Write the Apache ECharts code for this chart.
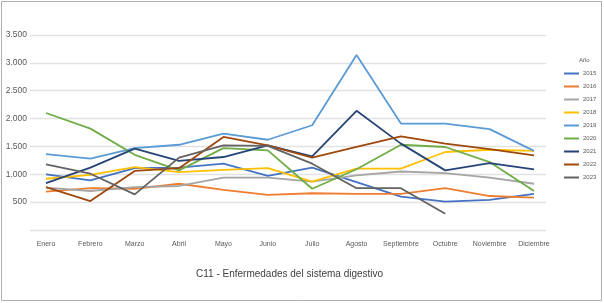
<!DOCTYPE html>
<html>
<head>
<meta charset="UTF-8">
<script src="https://cdn.jsdelivr.net/npm/echarts@6/dist/echarts.min.js"></script>
<style>
  html, body { margin: 0; padding: 0; background: #fff; }
  #main { width: 604px; height: 303px; }
</style>
</head>
<body>
<div id="main"></div>
<script>
var months = ['Enero', 'Febrero', 'Marzo', 'Abril', 'Mayo', 'Junio', 'Julio', 'Agosto', 'Septiembre', 'Octubre', 'Noviembre', 'Diciembre'];
var years = ['2015', '2016', '2017', '2018', '2019', '2020', '2021', '2022', '2023'];
var colors = ['#4472C4', '#ED7D31', '#A5A5A5', '#FFC000', '#5B9BD5', '#70AD47', '#264478', '#9E480E', '#636363'];

var v2015 = [1000, 890, 1110, 1120, 1190, 970, 1120, 860, 600, 510, 540, 650];
var v2016 = [690, 750, 740, 830, 720, 630, 660, 650, 650, 750, 610, 580];
var v2017 = [760, 700, 770, 790, 940, 940, 870, 980, 1050, 1020, 940, 830];
var v2018 = [920, 990, 1130, 1040, 1080, 1110, 870, 1100, 1100, 1400, 1440, 1420];
var v2019 = [1360, 1280, 1470, 1530, 1730, 1620, 1880, 3140, 1910, 1910, 1810, 1420];
var v2020 = [2100, 1820, 1350, 1070, 1470, 1430, 740, 1090, 1530, 1490, 1220, 700];
var v2021 = [840, 1120, 1460, 1240, 1310, 1520, 1320, 2140, 1550, 1070, 1200, 1090];
var v2022 = [770, 520, 1060, 1110, 1670, 1520, 1300, 1490, 1680, 1550, 1450, 1340];
var v2023 = [1180, 1010, 640, 1300, 1520, 1510, 1190, 750, 750, 290, null, null];
var values = [v2015, v2016, v2017, v2018, v2019, v2020, v2021, v2022, v2023];

var yTicks = [0, 500, 1000, 1500, 2000, 2500, 3000, 3500];

var chart = echarts.init(document.getElementById('main'));

function fmt(v) {
  if (v === 0) return '';
  return String(v).replace(/\B(?=(\d{3})+(?!\d))/g, '.');
}

var series = years.map(function (y, i) {
  return {
    name: y,
    type: 'line',
    xAxisIndex: 1,
    yAxisIndex: 1,
    data: values[i],
    showSymbol: false,
    symbol: 'none',
    lineStyle: { width: 1.8, color: colors[i] },
    itemStyle: { color: colors[i] }
  };
});

chart.setOption({
  animation: false,
  textStyle: { fontFamily: 'Liberation Sans, Arial, sans-serif' },
  title: {
    text: 'C11 - Enfermedades del sistema digestivo',
    left: 191,
    top: 264,
    textStyle: { fontSize: 10, fontWeight: 'normal', color: '#404040' }
  },
  legend: {
    orient: 'vertical',
    left: 559,
    top: 65,
    itemWidth: 15,
    itemHeight: 2,
    itemGap: 6,
    icon: 'rect',
    data: years,
    textStyle: { fontSize: 6, color: '#595959', lineHeight: 7, padding: [0, 0, 0, -1] }
  },
  graphic: [
    { type: 'text', left: 579, top: 57, style: { text: 'Año', fontSize: 6, fill: '#595959', font: '6px Liberation Sans' } },
    { type: 'rect', shape: { x: 1.5, y: 1.5, width: 600, height: 299 }, style: { fill: 'none', stroke: '#b0b0b0', lineWidth: 1 } }
  ],
  grid: [
    { left: 30, right: 58, top: 35, bottom: 73 },
    { left: 46, right: 70, top: 35, bottom: 73 }
  ],
  xAxis: [
    { gridIndex: 0, type: 'value', min: 0, max: 1, show: false },
    {
      gridIndex: 1,
      type: 'category',
      data: months,
      boundaryGap: false,
      axisLine: { show: false },
      axisTick: { show: false },
      axisLabel: { fontSize: 7, color: '#595959', margin: 11, interval: 0 }
    }
  ],
  yAxis: [
    {
      gridIndex: 0,
      type: 'value',
      min: yTicks[0],
      max: yTicks[yTicks.length - 1],
      interval: 500,
      axisLine: { show: false },
      axisTick: { show: false },
      axisLabel: { fontSize: 8.5, color: '#595959', margin: 3, formatter: fmt },
      splitLine: { lineStyle: { color: '#e2e2e2', width: 1.3 } }
    },
    {
      gridIndex: 1,
      type: 'value',
      min: yTicks[0],
      max: yTicks[yTicks.length - 1],
      interval: 500,
      show: false,
      splitLine: { show: false }
    }
  ],
  series: series
});
</script>
</body>
</html>
